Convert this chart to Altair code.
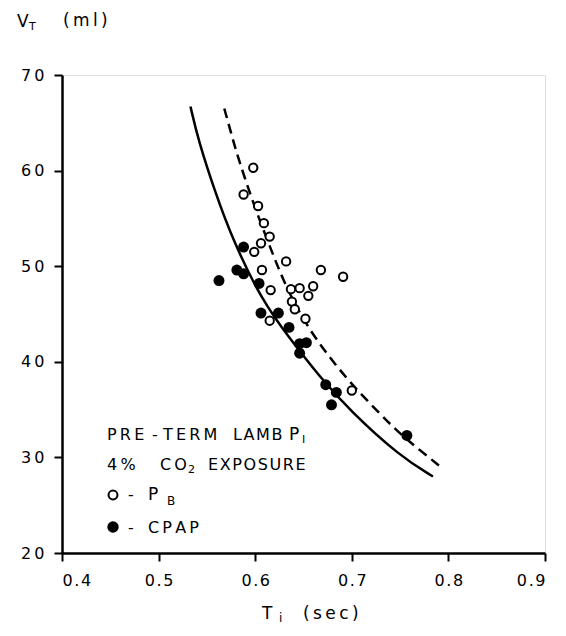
import altair as alt
import pandas as pd

# ---- data ----
pb_ti = [0.598, 0.588, 0.603, 0.609, 0.615, 0.606, 0.599, 0.632, 0.668, 0.607, 0.691,
         0.616, 0.660, 0.646, 0.637, 0.655, 0.638, 0.641, 0.652, 0.615, 0.700]
pb_vt = [60.3, 57.5, 56.3, 54.5, 53.1, 52.4, 51.5, 50.5, 49.6, 49.6, 48.9,
         47.5, 47.9, 47.7, 47.6, 46.9, 46.3, 45.5, 44.5, 44.3, 37.0]

cpap_ti = [0.5625, 0.581, 0.588, 0.588, 0.604, 0.606, 0.624, 0.635, 0.646, 0.653,
           0.646, 0.673, 0.684, 0.679, 0.757]
cpap_vt = [48.5, 49.6, 52.0, 49.2, 48.2, 45.1, 45.1, 43.6, 41.9, 42.0,
           40.9, 37.6, 36.8, 35.5, 32.3]

solid_ti = [0.533, 0.541, 0.559, 0.577, 0.607, 0.636, 0.667, 0.698, 0.750, 0.784]
solid_vt = [66.7, 63.2, 57.6, 52.7, 46.4, 42.4, 38.4, 34.9, 30.1, 28.0]

dash_ti = [0.568, 0.577, 0.584, 0.600, 0.617, 0.629, 0.653, 0.695, 0.729, 0.750, 0.794]
dash_vt = [66.5, 63.2, 60.8, 56.0, 51.6, 48.5, 43.6, 38.1, 34.6, 32.4, 28.85]

x_ticks = [0.4, 0.5, 0.6, 0.7, 0.8, 0.9]
y_ticks = [20, 30, 40, 50, 60, 70]

FONT = "DejaVu Sans"
THIN = "\u2009"
HAIR = "\u200a"


def sp(s, gap=THIN):
    return gap.join(list(s))


pb = pd.DataFrame({"ti": pb_ti, "vt": pb_vt})
cpap = pd.DataFrame({"ti": cpap_ti, "vt": cpap_vt})
solid = pd.DataFrame({"ti": solid_ti, "vt": solid_vt})
dash = pd.DataFrame({"ti": dash_ti, "vt": dash_vt})

xs = alt.Scale(domain=[0.4, 0.9], nice=False, zero=False)
ys = alt.Scale(domain=[20, 70], nice=False, zero=False)

xax = alt.Axis(values=x_ticks, format=".1f", grid=False, tickSize=8, tickWidth=2,
               domainWidth=2.5, labelPadding=11, labelFontSize=16, labelFont=FONT,
               labelColor="black", tickColor="black", domainColor="black",
               labelExpr="join(split(datum.label, ''), '" + HAIR + "')", title="")
yax = alt.Axis(values=y_ticks, format="d", grid=False, tickSize=8, tickWidth=2,
               domainWidth=2.5, labelPadding=10, labelFontSize=16, labelFont=FONT,
               labelColor="black", tickColor="black", domainColor="black",
               labelExpr="join(split(datum.label, ''), '" + THIN + "')", title="")

X = alt.X("ti:Q", scale=xs, axis=xax)
Y = alt.Y("vt:Q", scale=ys, axis=yax)

solid_line = alt.Chart(solid).mark_line(color="black", strokeWidth=2.5,
                                        interpolate="basis").encode(x=X, y=Y)
dash_line = alt.Chart(dash).mark_line(color="black", strokeWidth=2.5, strokeDash=[10, 6],
                                      interpolate="basis").encode(x=X, y=Y)
cpap_pts = alt.Chart(cpap).mark_circle(color="black", size=120, opacity=1).encode(x=X, y=Y)
pb_pts = alt.Chart(pb).mark_point(shape="circle", filled=True, fill="white", stroke="black",
                                  strokeWidth=2, size=70, opacity=1).encode(x=X, y=Y)


def txt(s, x, y, size=16):
    return alt.Chart().mark_text(text=s, align="left", baseline="alphabetic", font=FONT,
                                 fontSize=size, color="black").encode(
        x=alt.value(x), y=alt.value(y))


texts = [
    # y-axis title  V_T (ml)
    txt("V", -45, -48, 17),
    txt("T", -33, -45.5, 11),
    txt(sp("(ml)", THIN), 1, -49, 17),
    # x-axis title  T_i (sec)
    txt("T", 200, 544, 17),
    txt("i", 217, 547, 12),
    txt(sp("(sec)", THIN), 241, 544, 17),
    # legend block
    txt(sp("PRE"), 45, 365),
    txt("-", 90, 365),
    txt(sp("TERM"), 101, 365),
    txt(sp("LAMB", HAIR), 171, 365),
    txt("P", 227, 365, 17),
    txt("I", 240, 368, 11),
    txt(sp("4%"), 45, 395),
    txt(sp("CO"), 98, 395),
    txt("2", 126, 398, 11),
    txt(sp("EXPOSURE", HAIR), 146, 395),
    txt("-", 66, 425),
    txt("P", 86, 425, 17),
    txt("B", 105, 430, 12),
    txt("-", 66, 458),
    txt(sp("CPAP"), 86, 458),
]

leg_open = alt.Chart().mark_point(shape="circle", filled=True, fill="white", stroke="black",
                                  strokeWidth=2, size=80, opacity=1).encode(
    x=alt.value(51), y=alt.value(420))
leg_fill = alt.Chart().mark_circle(color="black", size=130, opacity=1).encode(
    x=alt.value(51), y=alt.value(452))

chart = alt.layer(solid_line, dash_line, cpap_pts, pb_pts, leg_open, leg_fill, *texts).properties(
    width=483, height=478,
    padding={"left": 54, "top": 67, "right": 13, "bottom": 75},
    autosize=alt.AutoSizeParams(type="none"),
).configure_view(stroke="black", strokeWidth=2.5).configure(background="white")

chart.save("out.html", embed_options={"renderer": "svg", "actions": False})
